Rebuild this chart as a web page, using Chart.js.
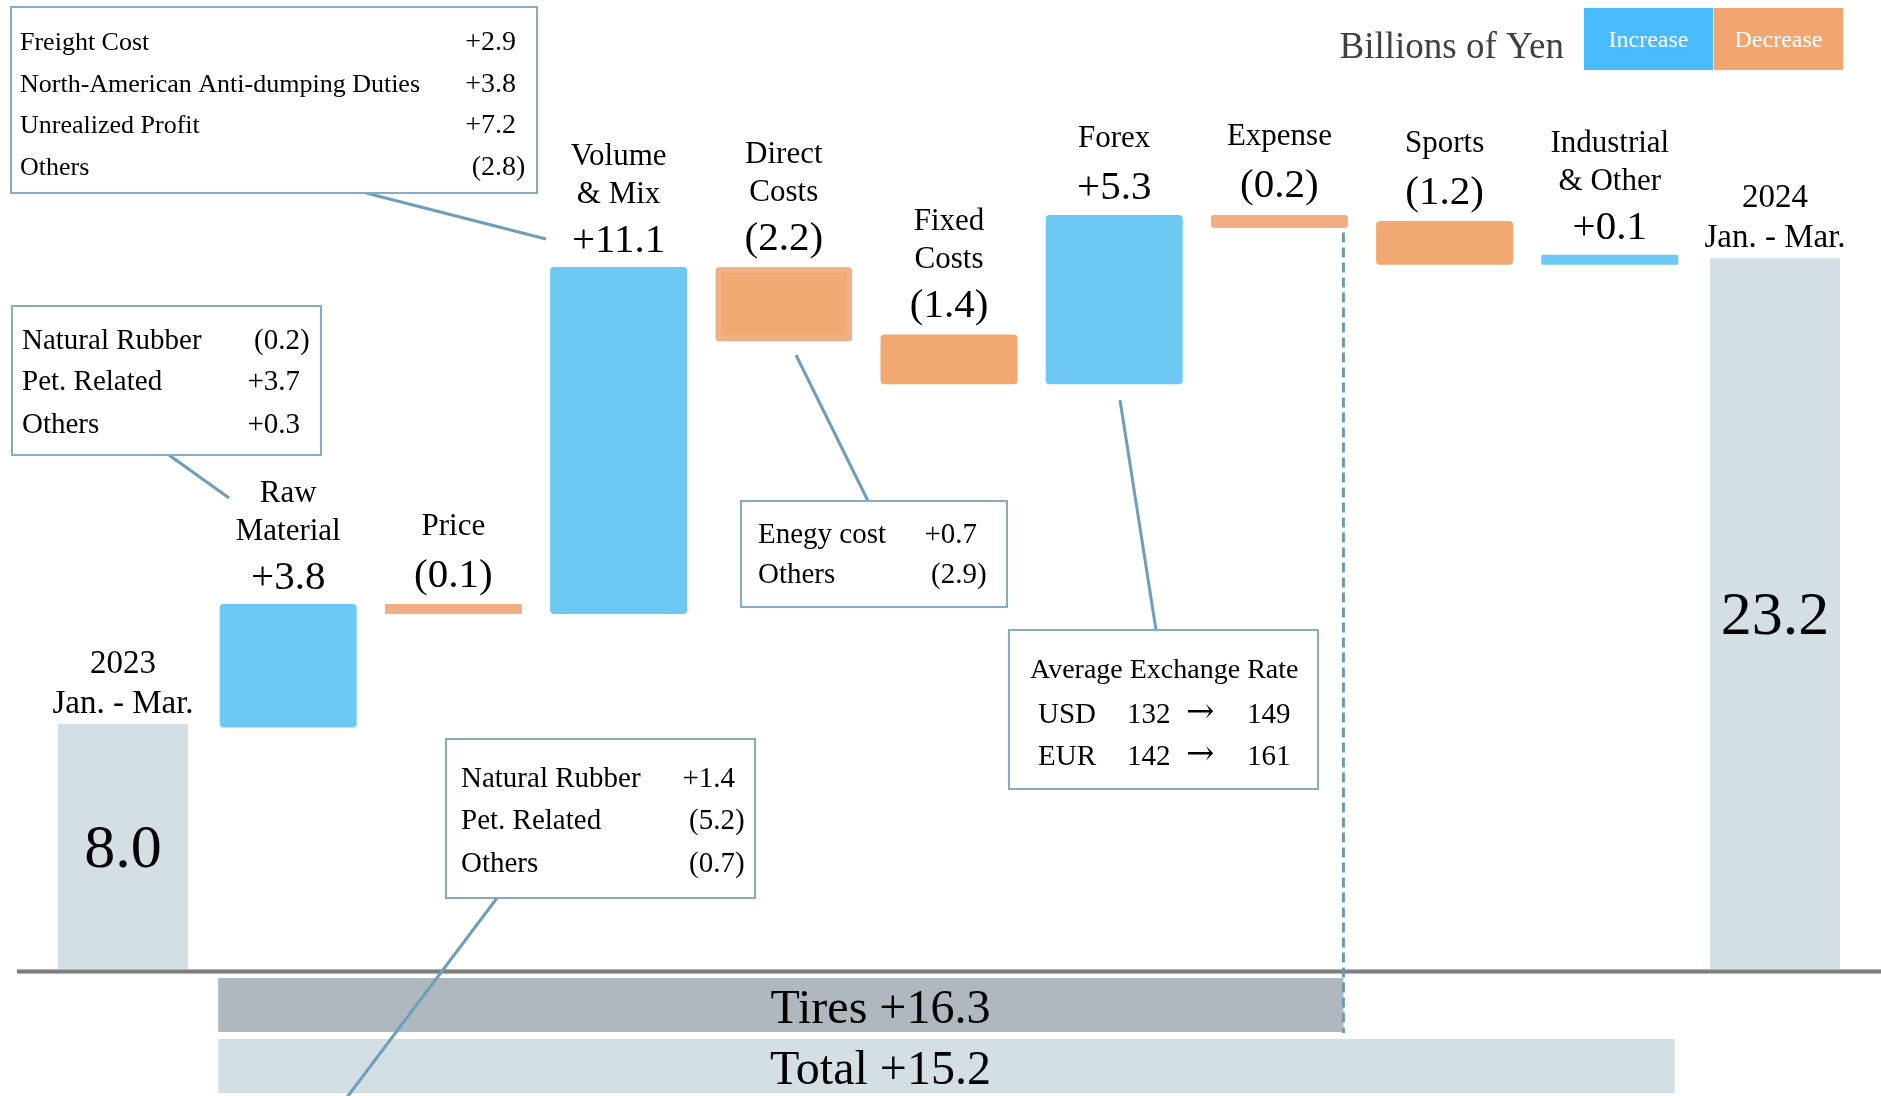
<!DOCTYPE html>
<html>
<head>
<meta charset="utf-8">
<title>Operating Income Change, Jan. - Mar.</title>
<script src="https://cdn.jsdelivr.net/npm/chart.js@4.4.1/dist/chart.umd.min.js"></script>
<style>
  html, body { margin: 0; padding: 0; background: #ffffff; }
  #wrap { width: 1881px; height: 1096px; position: relative; }
</style>
</head>
<body>
<div id="wrap"><canvas id="bridge" width="1881" height="1096"></canvas></div>
<script>
// ---- data -------------------------------------------------------------
const categories = ['2023 Jan. - Mar.', 'Raw Material', 'Price', 'Volume & Mix', 'Direct Costs',
  'Fixed Costs', 'Forex', 'Expense', 'Sports', 'Industrial & Other', '2024 Jan. - Mar.'];
const categoryLines = [['2023', 'Jan. - Mar.'], ['Raw', 'Material'], ['Price'], ['Volume', '& Mix'],
  ['Direct', 'Costs'], ['Fixed', 'Costs'], ['Forex'], ['Expense'], ['Sports'],
  ['Industrial', '& Other'], ['2024', 'Jan. - Mar.']];
const startValue = 8.0;
const endValue = 23.2;
const changes = [3.8, -0.1, 11.1, -2.2, -1.4, 5.3, -0.2, -1.2, 0.1];
// Tires segment covers Raw Material .. Expense (change indexes 0..6)
const tiresFirst = 0, tiresLast = 6;

const volumeMixDetail = [['Freight Cost', '+2.9'], ['North-American Anti-dumping Duties', '+3.8'],
  ['Unrealized Profit', '+7.2'], ['Others', '(2.8)']];
const rawMaterialDetail = [['Natural Rubber', '(0.2)'], ['Pet. Related', '+3.7'], ['Others', '+0.3']];
const priceDetail = [['Natural Rubber', '+1.4'], ['Pet. Related', '(5.2)'], ['Others', '(0.7)']];
const directCostDetail = [['Enegy cost', '+0.7'], ['Others', '(2.9)']];
const exchangeTitle = 'Average Exchange Rate';
const exchangeRates = [['USD', '132', '149'], ['EUR', '142', '161']];
const unitLabel = 'Billions of Yen';
const legendLabels = ['Increase', 'Decrease'];

// ---- derived series ---------------------------------------------------
const r1 = v => Math.round(v * 10) / 10;
const totalsData = categories.map((c, i) =>
  i === 0 ? [0, startValue] : (i === categories.length - 1 ? [0, endValue] : null));
const stepData = [null];
let running = startValue;
changes.forEach(v => { stepData.push([r1(running), r1(running + v)]); running = r1(running + v); });
stepData.push(null);

const fmt = v => (v < 0 ? '(' + Math.abs(v).toFixed(1) + ')' : '+' + Math.abs(v).toFixed(1));
const sum = arr => r1(arr.reduce((a, b) => a + b, 0));

const SERIF = '"Liberation Serif", "Times New Roman", Times, serif';
const BLUE = '#6DC8F4', ORANGE = '#F1A971', ORANGE_EDGE = '#EFB085', ORANGE_THIN = '#EFAF82';
const TOTAL_FILL = '#D3DFE5', TIRES_FILL = '#AEB8BE';
const LEADER = '#6D9EBA', BOX_EDGE = '#86ABC2';

const delta = ctx => { const r = ctx.raw; return r ? r[1] - r[0] : 0; };

// ---- drawing helpers --------------------------------------------------
function box(ctx, x, y, w, h) {
  ctx.fillStyle = '#ffffff';
  ctx.fillRect(x, y, w, h);
  ctx.strokeStyle = BOX_EDGE;
  ctx.lineWidth = 2;
  ctx.strokeRect(x, y, w, h);
}
function leader(ctx, x1, y1, x2, y2) {
  ctx.strokeStyle = LEADER;
  ctx.lineWidth = 3;
  ctx.setLineDash([]);
  ctx.beginPath(); ctx.moveTo(x1, y1); ctx.lineTo(x2, y2); ctx.stroke();
}
// rows of name / value; closing parentheses hang past the value column
function detailRows(ctx, rows, textX, valueRight, baselines, nameSize, valueSize) {
  ctx.fillStyle = '#000';
  ctx.textBaseline = 'alphabetic';
  rows.forEach((row, i) => {
    ctx.font = nameSize + 'px ' + SERIF;
    ctx.textAlign = 'left';
    ctx.fillText(row[0], textX, baselines[i]);
    ctx.font = valueSize + 'px ' + SERIF;
    ctx.textAlign = 'right';
    const hang = row[1].endsWith(')') ? ctx.measureText(')').width : 0;
    ctx.fillText(row[1], valueRight + hang, baselines[i]);
  });
}

const notes = {
  id: 'bridgeNotes',
  afterDatasetsDraw(chart) {
    const { ctx, scales: { y } } = chart;
    const totals = chart.getDatasetMeta(0).data;
    const steps = chart.getDatasetMeta(1).data;
    const zeroY = y.getPixelForValue(0);
    ctx.save();

    // base rule
    ctx.fillStyle = '#B5B5B5';
    ctx.fillRect(17, zeroY, 1864, 5);
    ctx.fillStyle = '#7E7E7E';
    ctx.fillRect(17, zeroY + 1, 1864, 3);

    // segment bands under the axis
    const first = steps[tiresFirst + 1], last = steps[tiresLast + 1], end = steps[changes.length];
    const bandLeft = first.x - first.width / 2 - 5;
    const tiresRight = last.x + last.width / 2 - 1;
    const totalRight = end.x + end.width / 2;
    ctx.fillStyle = TIRES_FILL;
    ctx.fillRect(bandLeft, zeroY + 9, tiresRight - bandLeft, 54);
    ctx.fillStyle = TOTAL_FILL;
    ctx.fillRect(bandLeft, zeroY + 70, totalRight - bandLeft, 54);
    const bandTextX = (steps[4].x + steps[5].x) / 2 + 14;
    ctx.fillStyle = '#000';
    ctx.font = '48px ' + SERIF;
    ctx.textAlign = 'center';
    ctx.textBaseline = 'alphabetic';
    ctx.fillText('Tires ' + fmt(sum(changes.slice(tiresFirst, tiresLast + 1))), bandTextX, zeroY + 54);
    ctx.fillText('Total ' + fmt(r1(endValue - startValue)), bandTextX, zeroY + 115);

    // dashed end marker of the tires segment
    const lastTop = Math.max(last.y, last.base);
    ctx.strokeStyle = '#6A9AB6';
    ctx.lineWidth = 3;
    ctx.setLineDash([10, 5]);
    ctx.beginPath();
    ctx.moveTo(tiresRight, lastTop + 8);
    ctx.lineTo(tiresRight, zeroY + 64);
    ctx.stroke();
    ctx.setLineDash([]);

    // step labels
    ctx.fillStyle = '#000';
    ctx.textAlign = 'center';
    steps.forEach((bar, i) => {
      const raw = stepData[i];
      if (!raw) return;
      const v = r1(raw[1] - raw[0]);
      const top = Math.min(bar.y, bar.base);
      const vb = top - (v < 0 ? 21 : 19);
      ctx.font = '41px ' + SERIF;
      ctx.fillText(fmt(v), bar.x, vb);
      ctx.font = '31px ' + SERIF;
      const lines = categoryLines[i];
      const gap = lines.length > 1 ? 49 : 52;
      lines.forEach((t, j) => ctx.fillText(t, bar.x, vb - gap - (lines.length - 1 - j) * 38));
    });

    // period totals
    totals.forEach((bar, i) => {
      const raw = totalsData[i];
      if (!raw) return;
      const top = Math.min(bar.y, bar.base);
      const lines = categoryLines[i];
      ctx.font = '33px ' + SERIF;
      ctx.textBaseline = 'alphabetic';
      lines.forEach((t, j) => ctx.fillText(t, bar.x, top - 11 - (lines.length - 1 - j) * 40));
      ctx.font = '62px ' + SERIF;
      ctx.textBaseline = 'middle';
      ctx.fillText(raw[1].toFixed(1), bar.x, (bar.y + bar.base) / 2 + 4);
      ctx.textBaseline = 'alphabetic';
    });

    // callouts
    leader(ctx, 366, 193, 546, 239);
    box(ctx, 11, 7, 526, 186);
    detailRows(ctx, volumeMixDetail, 20, 516, [50, 92, 133, 175], 26, 28);

    leader(ctx, 169, 455, 229, 498);
    box(ctx, 12, 306, 309, 149);
    detailRows(ctx, rawMaterialDetail, 22, 300, [349, 390, 433], 29, 29);

    box(ctx, 446, 739, 309, 159);
    detailRows(ctx, priceDetail, 461, 735, [787, 829, 872], 29, 29);
    // leader runs down over the bands
    leader(ctx, 497, 898, 345, 1100);

    leader(ctx, 868, 501, 796, 355);
    box(ctx, 741, 501, 266, 106);
    detailRows(ctx, directCostDetail, 758, 977, [543, 583], 29, 29);

    leader(ctx, 1156, 630, 1120, 400);
    box(ctx, 1009, 630, 309, 159);
    ctx.fillStyle = '#000';
    ctx.textAlign = 'left';
    ctx.font = '28px ' + SERIF;
    ctx.fillText(exchangeTitle, 1030, 678);
    exchangeRates.forEach((r, i) => {
      const b = [723, 765][i];
      ctx.font = '29px ' + SERIF;
      ctx.fillText(r[0], 1038, b);
      ctx.fillText(r[1], 1127, b);
      ctx.fillText(r[2], 1247, b);
      ctx.font = '34px "DejaVu Serif", ' + SERIF;
      ctx.fillText('\u2192', 1186, b - 1);
    });

    // unit + legend
    ctx.fillStyle = '#404040';
    ctx.textAlign = 'right';
    ctx.font = '37px ' + SERIF;
    ctx.fillText(unitLabel, 1564, 58);
    const legendFills = ['#48BCFF', '#F2A66F'];
    legendLabels.forEach((t, i) => {
      const lx = 1584 + i * 130;
      ctx.fillStyle = legendFills[i];
      ctx.fillRect(lx, 8, 129, 62);
      ctx.fillStyle = '#ffffff';
      ctx.textAlign = 'center';
      ctx.textBaseline = 'middle';
      ctx.font = '24px ' + SERIF;
      ctx.fillText(t, lx + 64.5, 41);
    });
    ctx.restore();
  }
};

new Chart(document.getElementById('bridge'), {
  type: 'bar',
  data: {
    labels: categories,
    datasets: [
      {
        label: 'Period total',
        data: totalsData,
        backgroundColor: TOTAL_FILL,
        borderWidth: 0,
        inflateAmount: 0,
        barPercentage: 0.787,
        categoryPercentage: 1,
        grouped: false
      },
      {
        label: 'Change',
        data: stepData,
        backgroundColor: ctx => {
          const d = delta(ctx);
          if (d >= 0) return BLUE;
          return Math.abs(d) < 1 ? ORANGE_THIN : ORANGE;
        },
        borderColor: ctx => (delta(ctx) >= 0 ? BLUE : ORANGE_EDGE),
        borderWidth: ctx => (delta(ctx) < 0 && Math.abs(delta(ctx)) >= 2 ? 6 : 0),
        borderSkipped: false,
        borderRadius: 4,
        inflateAmount: 3.5,
        barPercentage: 0.787,
        categoryPercentage: 1,
        grouped: false
      }
    ]
  },
  options: {
    responsive: false,
    animation: false,
    devicePixelRatio: 1,
    events: [],
    layout: { padding: { left: 40.4, right: 23.4, top: 50, bottom: 127 } },
    plugins: { legend: { display: false }, tooltip: { enabled: false } },
    scales: {
      x: { display: false, offset: true, grid: { display: false } },
      y: { display: false, min: 0, max: 30, grid: { display: false } }
    }
  },
  plugins: [notes]
});
</script>
</body>
</html>
